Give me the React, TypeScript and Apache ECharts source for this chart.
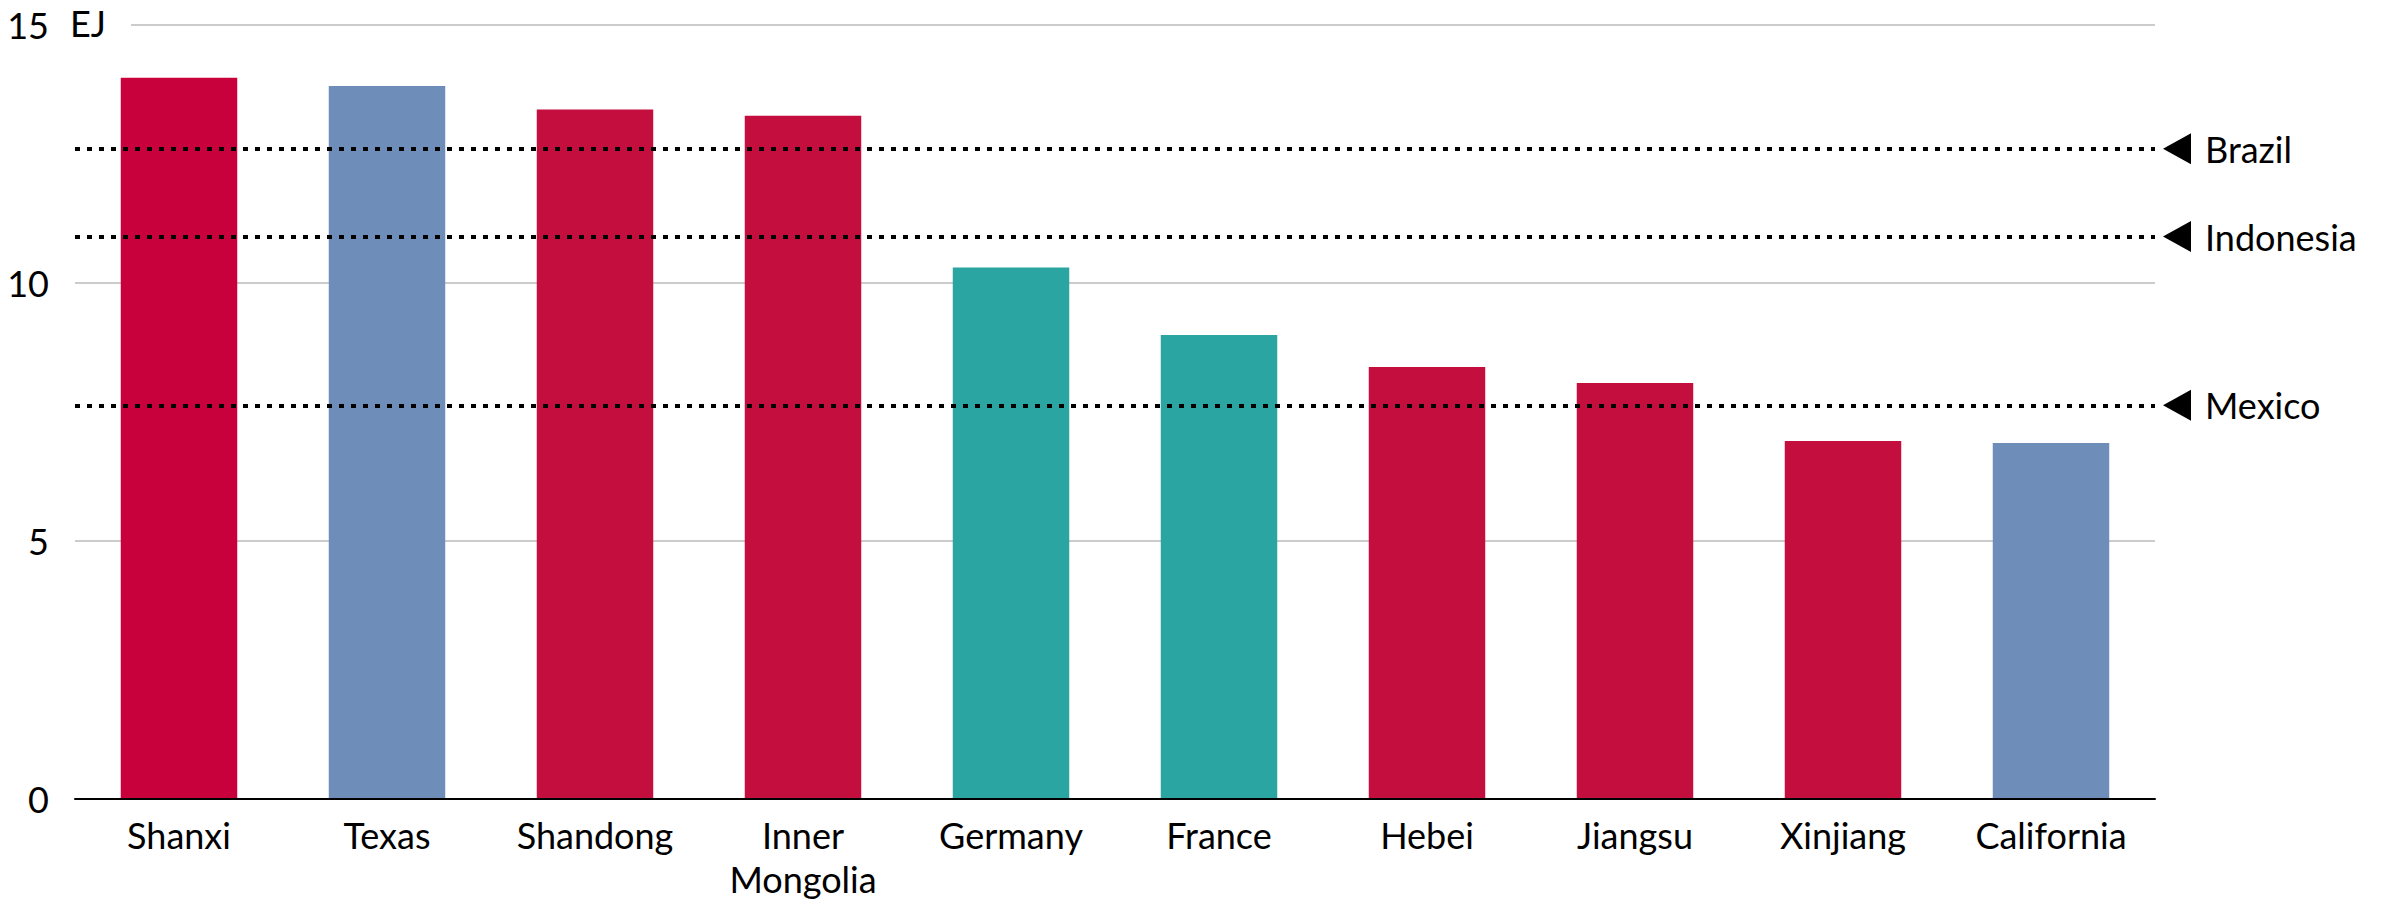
import React, { useEffect, useRef } from "react";
import * as echarts from "echarts";

// ---- Data ----
const categories = [
  "Shanxi",
  "Texas",
  "Shandong",
  "Inner\nMongolia",
  "Germany",
  "France",
  "Hebei",
  "Jiangsu",
  "Xinjiang",
  "California",
];
const consumptionEJ = [13.98, 13.82, 13.36, 13.24, 10.3, 8.99, 8.37, 8.06, 6.94, 6.9];
const regionOf = ["ChinaA", "US", "China", "China", "Europe", "Europe", "China", "China", "China", "US"];
const referenceNames = ["Brazil", "Indonesia", "Mexico"];
const referenceValues = [12.6, 10.9, 7.63];
const yTicks = { min: 0, max: 15, interval: 5 };
const unitLabel = "EJ";

// ---- Styles ----
const regionColors: Record<string, string> = {
  ChinaA: "#C8003C",
  China: "#C30E3E",
  US: "#6E8DB8",
  Europe: "#2AA5A2",
};
const FONT = "Lato, 'Noto Sans', sans-serif";
const FS = 36;
const GRID = { left: 75, right: 231, top: 25, bottom: 100 };
const CHART_W = 2386;

export default function App() {
  const ref = useRef<HTMLDivElement>(null);
  useEffect(() => {
    if (!ref.current) return;
    const chart = echarts.init(ref.current, undefined, { renderer: "svg" });
    chart.setOption({
      animation: false,
      backgroundColor: "#fff",
      grid: { ...GRID, containLabel: false },
      xAxis: {
        type: "category",
        data: categories,
        axisLine: { show: true, lineStyle: { color: "#000", width: 2 } },
        axisTick: { show: false },
        axisLabel: {
          interval: 0,
          margin: 14,
          color: "#000",
          fontFamily: FONT,
          fontSize: FS,
          lineHeight: 44,
        },
        z: 5,
      },
      yAxis: {
        type: "value",
        min: yTicks.min,
        max: yTicks.max,
        interval: yTicks.interval,
        axisLine: { show: false },
        axisTick: { show: false },
        splitLine: { lineStyle: { color: "#cccccc", width: 2 } },
        axisLabel: { color: "#000", fontFamily: FONT, fontSize: FS, margin: 26 },
      },
      series: [
        {
          type: "bar",
          barCategoryGap: "44%",
          data: consumptionEJ.map((v, i) => ({
            value: v,
            itemStyle: { color: regionColors[regionOf[i]] },
          })),
          markLine: {
            silent: true,
            symbol: ["none", "none"],
            lineStyle: { color: "#000", width: 4, type: [5, 7] },
            label: {
              show: true,
              position: "end",
              distance: 50,
              formatter: "{b}",
              color: "#000",
              fontFamily: FONT,
              fontSize: FS,
            },
            data: referenceNames.map((n, i) => ({ name: n, yAxis: referenceValues[i] })),
          },
        },
      ],
      graphic: [
        {
          type: "rect",
          id: "ejbg",
          z: 100,
          shape: { x: 56, y: 8, width: 75, height: 34 },
          style: { fill: "#fff" },
        },
        {
          type: "text",
          id: "ej",
          z: 101,
          x: 70,
          y: 23,
          style: {
            text: unitLabel,
            fill: "#000",
            font: `${FS}px ${FONT}`,
            verticalAlign: "middle",
            align: "left",
          },
        },
      ],
    });
    // left-pointing markers placed beside each reference line, positioned via the y scale
    const xRight = CHART_W - GRID.right;
    const markers = referenceValues.map((v, i) => {
      const y = chart.convertToPixel({ yAxisIndex: 0 }, v) as number;
      return {
        type: "polygon",
        id: "tri" + i,
        z: 100,
        shape: {
          points: [
            [xRight + 8, y],
            [xRight + 36, y - 15.5],
            [xRight + 36, y + 15.5],
          ],
        },
        style: { fill: "#000" },
      };
    });
    chart.setOption({ graphic: markers });
    return () => chart.dispose();
  }, []);
  return (
    <div
      ref={ref}
      style={{ position: "absolute", left: 0, top: 0, width: 2386, height: 901 }}
    />
  );
}
